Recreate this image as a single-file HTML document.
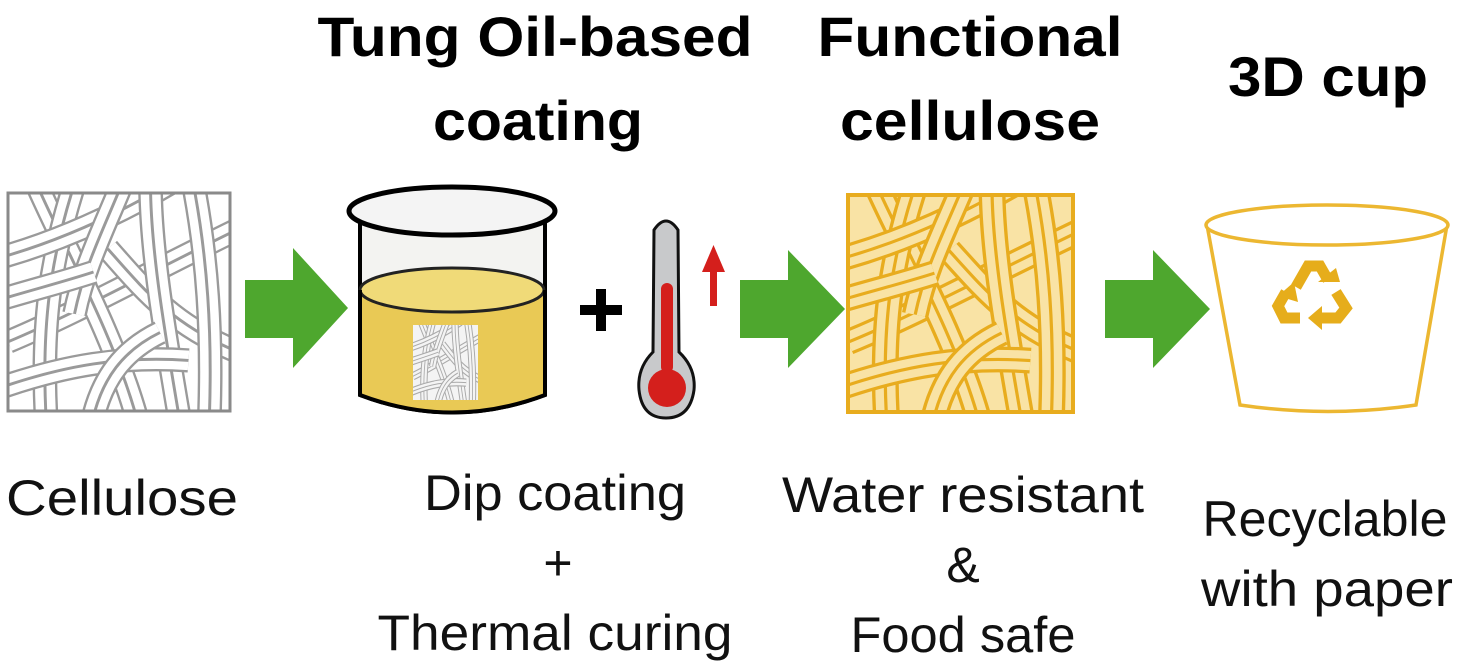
<!DOCTYPE html>
<html><head><meta charset="utf-8"><style>
html,body{margin:0;padding:0;background:#fff;}
svg{display:block;}
text{font-family:"Liberation Sans",sans-serif;}
</style></head><body>
<svg id="s" width="1460" height="663" viewBox="0 0 1460 663" xmlns="http://www.w3.org/2000/svg">
<defs>
<clipPath id="c1"><rect x="8" y="193" width="222" height="218"/></clipPath>
<clipPath id="c2"><rect x="848" y="195" width="225" height="217"/></clipPath>
<clipPath id="c3"><rect x="413" y="325" width="65" height="75"/></clipPath>
</defs>

<g font-weight="bold" fill="#000" text-anchor="middle" font-size="56">
<text x="535" y="56" textLength="435" lengthAdjust="spacingAndGlyphs">Tung Oil-based</text>
<text x="538" y="140" textLength="210" lengthAdjust="spacingAndGlyphs">coating</text>
<text x="970" y="56" textLength="305" lengthAdjust="spacingAndGlyphs">Functional</text>
<text x="970" y="140" textLength="260" lengthAdjust="spacingAndGlyphs">cellulose</text>
<text x="1328" y="96" textLength="200" lengthAdjust="spacingAndGlyphs">3D cup</text>
</g>

<rect x="8" y="193" width="222" height="218" fill="#fff"/>
<g id="f1" clip-path="url(#c1)"></g>
<rect x="8" y="193" width="222" height="218" fill="none" stroke="#8a8a8a" stroke-width="3"/>

<g fill="#4ea72e">
<polygon points="245,280 293,280 293,248 348,308 293,368 293,338 245,338"/>
<polygon points="740,280 788,280 788,250 845,309 788,368 788,338 740,338"/>
<polygon points="1105,280 1153,280 1153,250 1210,309 1153,368 1153,338 1105,338"/>
</g>

<path d="M360,212 L360,395 Q452,430 545,395 L545,212" fill="#f3f3f1" stroke="#000" stroke-width="4"/>
<path d="M360,290 Q452,270 545,290 L545,395 Q452,430 360,395 Z" fill="#e9c955"/>
<ellipse cx="452" cy="290" rx="92" ry="22" fill="#f0da78" stroke="#222" stroke-width="3"/>
<path d="M360,290 L360,395 Q452,430 545,395 L545,290" fill="none" stroke="#000" stroke-width="4"/>
<rect x="413" y="325" width="65" height="75" fill="#f4f4f4"/>
<g id="f3" clip-path="url(#c3)"></g>
<ellipse cx="452" cy="211" rx="103" ry="24" fill="#f4f4f4" stroke="#000" stroke-width="5"/>

<rect x="580" y="305" width="42" height="10" fill="#000"/>
<rect x="596" y="289" width="10" height="42" fill="#000"/>

<path d="M654,230 Q666,212 678,230 L679,352 Q696,368 694,390 Q690,418 666,418 Q642,418 639,390 Q637,368 653,352 Z" fill="#c8c9cb" stroke="#111" stroke-width="3"/>
<rect x="661" y="283" width="12" height="90" rx="6" fill="#d41f1c"/>
<circle cx="667" cy="388" r="19" fill="#d41f1c"/>
<rect x="710" y="268" width="7" height="38" fill="#d41f1c"/>
<polygon points="702,272 713.5,245 725,272" fill="#d41f1c"/>

<rect x="848" y="195" width="225" height="217" fill="#f9e3a5"/>
<g id="f2" clip-path="url(#c2)"></g>
<rect x="848" y="195" width="225" height="217" fill="none" stroke="#e8ac1e" stroke-width="4"/>

<path d="M1207,225 L1240,405 Q1328,418 1416,405 L1447,225" fill="#fff" stroke="#ecb731" stroke-width="3.5"/>
<ellipse cx="1327" cy="225" rx="121" ry="20" fill="#fff" stroke="#ecb731" stroke-width="3.5"/>
<g fill="none" stroke="#e6ad1b" stroke-width="11">
<path d="M1296,287 L1308,266 L1320,266 L1328,280"/>
<path d="M1336,292 L1346,308 L1338,318 L1322,318"/>
<path d="M1300,318 L1284,318 L1278,306 L1286,292"/>
</g>
<g fill="#e6ad1b">
<polygon points="1318,282 1340,282 1336,268"/>
<polygon points="1322,306 1322,330 1308,318"/>
<polygon points="1278,296 1294,282 1298,302"/>
</g>

<g fill="#111" text-anchor="middle" font-size="50">
<text x="122" y="515" textLength="232" lengthAdjust="spacingAndGlyphs">Cellulose</text>
<text x="555" y="510" textLength="262" lengthAdjust="spacingAndGlyphs">Dip coating</text>
<text x="558" y="580">+</text>
<text x="555" y="650" textLength="355" lengthAdjust="spacingAndGlyphs">Thermal curing</text>
<text x="963" y="512" textLength="362" lengthAdjust="spacingAndGlyphs">Water resistant</text>
<text x="963" y="582">&amp;</text>
<text x="963" y="652" textLength="225" lengthAdjust="spacingAndGlyphs">Food safe</text>
<text x="1325" y="536" textLength="245" lengthAdjust="spacingAndGlyphs">Recyclable</text>
<text x="1327" y="606" textLength="252" lengthAdjust="spacingAndGlyphs">with paper</text>
</g>
</svg>
<script>
(function(){
var P=["M0,160 C70,130 140,90 240,40","M30,-10 C60,60 110,150 135,240","M70,-10 C45,70 35,140 40,240",
"M-10,70 C60,50 120,20 170,-10","M105,60 C140,100 170,140 240,170","M150,-10 C150,60 165,150 180,240",
"M195,-10 C210,70 215,150 212,240","M-10,210 C60,185 120,175 190,180","M120,-10 C100,40 80,80 70,130",
"M90,240 C100,200 120,170 160,150","M-10,115 C40,100 60,95 90,85"];
var NS="http://www.w3.org/2000/svg";
function build(id,tx,ty,sx,sy,lc,bg,ow,iw){
 var g=document.getElementById(id);
 P.forEach(function(d){
  [[lc,ow],[bg,iw],[lc,1.5/Math.min(sx,sy)*(ow/26)]].forEach(function(st,i){
   var p=document.createElementNS(NS,"path");
   p.setAttribute("d",d);p.setAttribute("fill","none");
   p.setAttribute("stroke",st[0]);p.setAttribute("stroke-width",st[1]);
   p.setAttribute("transform","translate("+tx+","+ty+") scale("+sx+","+sy+")");
   if(i==2){p.setAttribute("stroke-width",ow*0.12);}
   g.appendChild(p);
  });
 });
}
build("f1",8,193,0.95,0.93,"#9a9a9a","#fff",26,21);
build("f2",848,195,0.96,0.92,"#e8ac1e","#f9e3a5",28,21);
build("f3",413,325,0.28,0.32,"#aaa","#f4f4f4",26,19);
})();
</script>
</body></html>
